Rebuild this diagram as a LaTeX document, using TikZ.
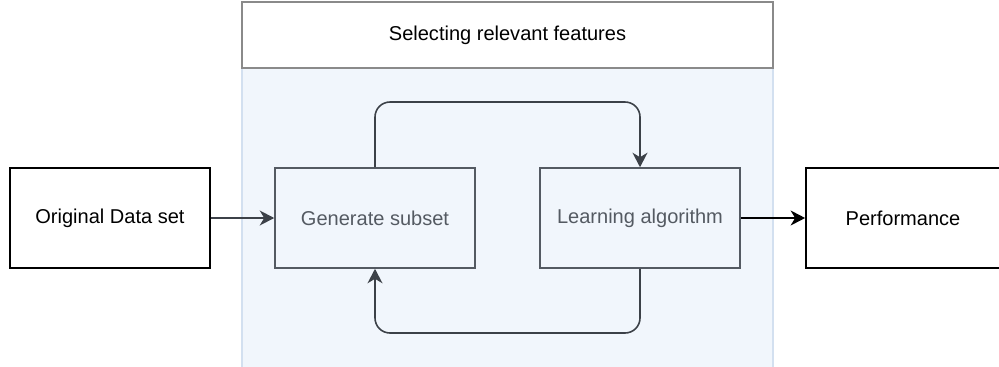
\documentclass[tikz,border=0pt]{standalone}
\usepackage{fontspec}
\setmainfont{Liberation Sans}
\usetikzlibrary{positioning,calc,arrows.meta}

\definecolor{regionfill}{HTML}{F1F6FC}
\definecolor{regionline}{HTML}{D3E0F0}
\definecolor{titleline}{HTML}{8A8A8A}
\definecolor{stepgray}{HTML}{545A62}
\definecolor{arrowgray}{HTML}{3C4148}

\begin{document}
\begin{tikzpicture}
	\useasboundingbox (0, 0) rectangle (19.98, 7.32);
	\tikzstyle{every node}=[align=center, inner sep=1pt, font=\fontsize{11.4}{13}\selectfont]
	\tikzstyle{outer}=[draw=black, line width=1pt, minimum width=4cm, minimum height=2cm]
	\tikzstyle{inner}=[draw=stepgray, text=stepgray, line width=0.9pt, minimum width=4cm, minimum height=2cm]
	\tikzstyle{link}=[draw=arrowgray, line width=0.9pt, -{Stealth[length=2.9mm, width=3mm, inset=0.9mm]}]

	% selection region
	\draw [regionline, fill=regionfill, line width=0.8pt] (4.84, -0.2) rectangle (15.46, 5.96);
	\node [draw=titleline, fill=white, line width=0.9pt, minimum width=10.62cm, minimum height=1.32cm] (title) at (10.15, 6.62) {Selecting relevant features};

	\node [outer] (data) at (2.2, 2.96) {Original Data set};
	\node [inner] (gen) at (7.5, 2.96) {Generate subset};
	\node [inner] (learn) at (12.8, 2.96) {Learning algorithm};
	\node [outer, minimum width=3.88cm] (perf) at (18.06, 2.96) {Performance};

	\draw [link] (data) to (gen);
	\draw [link, draw=black] (learn) to (perf);
	\draw [link, rounded corners=0.3cm] (gen.north) |- (10.15, 5.28) -| (learn.north);
	\draw [link, rounded corners=0.3cm] (learn.south) |- (10.15, 0.66) -| (gen.south);
\end{tikzpicture}
\end{document}
